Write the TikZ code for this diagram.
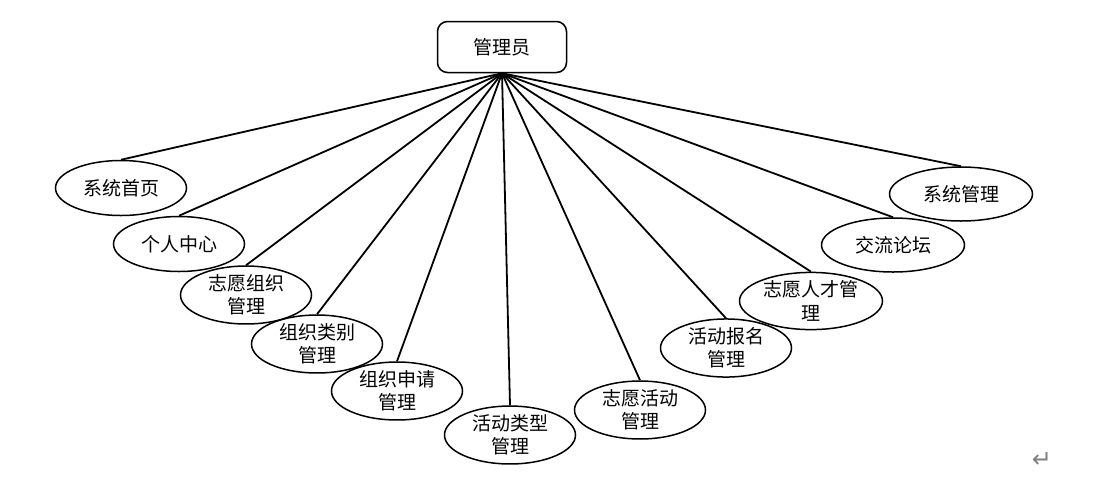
\documentclass[tikz,border=0pt]{standalone}
\usepackage{fontspec}
\setmainfont{Noto Sans CJK SC}
\newfontfamily\symfont{DejaVu Sans}
\usetikzlibrary{shapes.geometric}
\begin{document}
\begin{tikzpicture}[x=1pt,y=-1pt,
  rootbox/.style={draw,line width=1.5pt,rounded corners=10pt,minimum width=129pt,minimum height=51pt,inner sep=0pt,font=\fontsize{19}{24}\selectfont},
  leaf/.style={draw,ellipse,line width=1.5pt,minimum width=131pt,minimum height=55pt,inner sep=0pt,align=center,font=\fontsize{19}{23.5}\selectfont},
  wide/.style={minimum width=143pt,minimum height=54pt},
  link/.style={line width=1.8pt}]
\useasboundingbox (0,0) rectangle (1095,483);
\node[rootbox] (root) at (502,47) {管理员};
\node[leaf] (e1) at (121,188) {系统首页};
\node[leaf] (e2) at (179,244) {个人中心};
\node[leaf] (e3) at (246,295) {志愿组织\\管理};
\node[leaf] (e4) at (317,344) {组织类别\\管理};
\node[leaf] (e5) at (397,391) {组织申请\\管理};
\node[leaf] (e6) at (510,435) {活动类型\\管理};
\node[leaf] (e7) at (640,410) {志愿活动\\管理};
\node[leaf] (e8) at (726,348) {活动报名\\管理};
\node[leaf,wide] (e9) at (811,301) {志愿人才管\\理};
\node[leaf,wide] (e10) at (893,245) {交流论坛};
\node[leaf,wide] (e11) at (961,194) {系统管理};
\foreach \n in {e1,e2,e3,e4,e5,e6,e7,e8,e9,e10,e11}
  \draw[link] (root.south) -- (\n.north);
\node[text=gray,font=\symfont\fontsize{24}{24}\selectfont] (ret) at (1042,460) {↵};
\end{tikzpicture}
\end{document}
